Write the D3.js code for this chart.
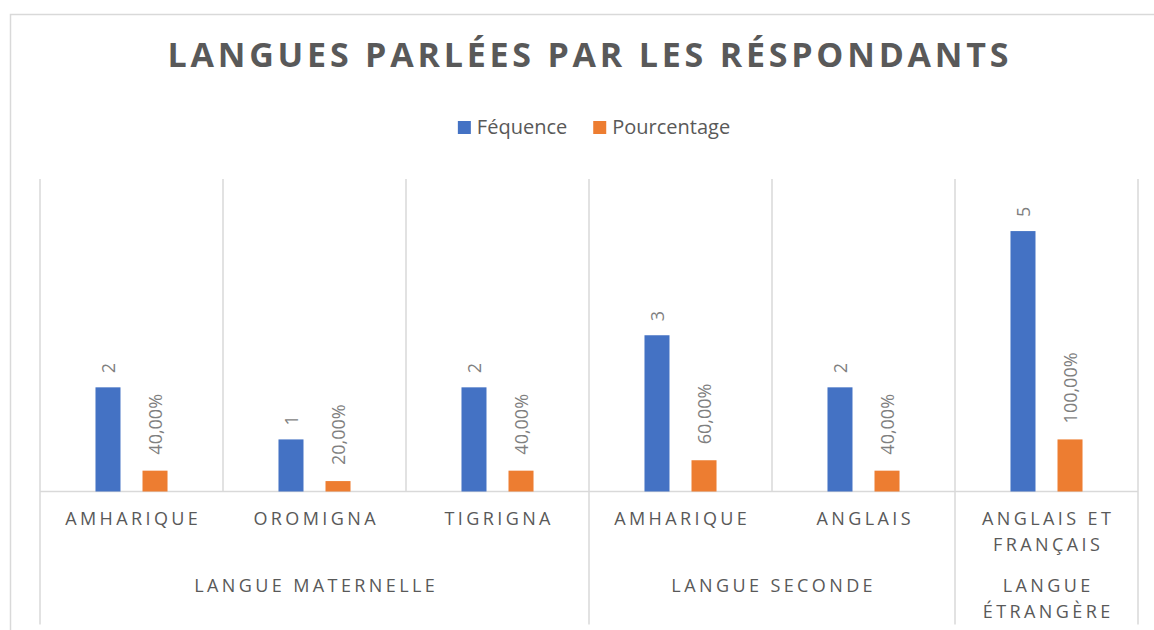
<!DOCTYPE html>
<html>
<head>
<meta charset="utf-8">
<script src="https://cdn.jsdelivr.net/npm/d3@7"></script>
<style>
  body { margin: 0; background: #fff; }
  svg { display: block; font-family: "Open Sans", "Noto Sans", sans-serif; }
</style>
</head>
<body>
<div id="chart"></div>
<script>
// data
const categories = ["AMHARIQUE", "OROMIGNA", "TIGRIGNA", "AMHARIQUE", "ANGLAIS", "ANGLAIS ET FRANÇAIS"];
const groups = ["LANGUE MATERNELLE", "LANGUE MATERNELLE", "LANGUE MATERNELLE", "LANGUE SECONDE", "LANGUE SECONDE", "LANGUE ÉTRANGÈRE"];
const frequence = [2, 1, 2, 3, 2, 5];
const pourcentage = [0.4, 0.2, 0.4, 0.6, 0.4, 1.0];
const seriesNames = ["Féquence", "Pourcentage"];
const yMax = 6;

const width = 1154, height = 630;
const margin = {top: 179, right: 16, bottom: 138.5, left: 40};
const innerW = width - margin.left - margin.right,
      innerH = height - margin.top - margin.bottom;

const colors = ["#4472C4", "#ED7D31"];
const GRID = "#d9d9d9", TEXT = "#595959", LABEL = "#7f7f7f";

const fr = d3.formatLocale({decimal: ",", thousands: " ", grouping: [3], currency: ["", " €"]});
const fmtPct = fr.format(".2%");

const svg = d3.select("#chart").append("svg")
    .attr("width", width)
    .attr("height", height);

// chart frame (runs off the right and bottom like the screenshot)
svg.append("rect")
    .attr("x", 10.5).attr("y", 14.5)
    .attr("width", 1300).attr("height", 800)
    .attr("fill", "none")
    .attr("stroke", GRID)
    .attr("stroke-width", 1.5);

// spread letters so that a text spans a given visible width
function spreadTo(sel, target) {
    const node = sel.node();
    const n = node.textContent.length;
    const natural = node.getComputedTextLength();
    const ls = (target - natural) / (n - 1);
    sel.style("letter-spacing", ls + "px").attr("dx", ls / 2);
}

// title
const title = svg.append("text")
    .attr("x", 588)
    .attr("y", 67)
    .attr("text-anchor", "middle")
    .attr("font-size", 34)
    .attr("font-weight", 700)
    .attr("fill", TEXT)
    .text("LANGUES PARLÉES PAR LES RÉSPONDANTS");
spreadTo(title, 841);

// legend
const legend = svg.append("g").attr("class", "legend");
let lx = 0;
seriesNames.forEach((name, i) => {
    const item = legend.append("g").attr("transform", `translate(${lx},0)`);
    item.append("rect")
        .attr("x", 0).attr("y", -13)
        .attr("width", 13).attr("height", 13)
        .attr("fill", colors[i]);
    const t = item.append("text")
        .attr("x", 19).attr("y", 0)
        .attr("font-size", 20)
        .attr("fill", TEXT)
        .text(name);
    lx += 19 + t.node().getComputedTextLength() + 26;
});
const legendW = lx - 26;
legend.attr("transform", `translate(${594 - legendW / 2},134)`);

const g = svg.append("g")
    .attr("transform", `translate(${margin.left},${margin.top})`);

/** scales */
const x = d3.scaleBand()
    .domain(d3.range(categories.length))
    .range([0, innerW])
    .padding(0);

const xs = d3.scaleBand()
    .domain(seriesNames)
    .range([0, x.bandwidth()])
    .paddingInner(0.468)
    .paddingOuter(1.18);

const y = d3.scaleLinear()
    .domain([0, yMax])
    .range([innerH, 0]);

// group boundaries
const groupSpans = [];
groups.forEach((grp, i) => {
    const last = groupSpans[groupSpans.length - 1];
    if (last && last.name === grp) last.end = i + 1;
    else groupSpans.push({name: grp, start: i, end: i + 1});
});
const groupEdges = new Set(groupSpans.map(d => d.start).concat([categories.length]));

// vertical gridlines / category separators
const edgeX = i => i < categories.length ? x(i) : x(categories.length - 1) + x.bandwidth();
g.append("g").attr("class", "grid")
    .selectAll("line")
    .data(d3.range(categories.length + 1))
    .join("line")
    .attr("x1", i => edgeX(i))
    .attr("x2", i => edgeX(i))
    .attr("y1", 0)
    .attr("y2", i => groupEdges.has(i) ? innerH + 133 : innerH)
    .attr("stroke", GRID)
    .attr("stroke-width", 1.5);

// category axis line
g.append("line")
    .attr("x1", 0).attr("x2", innerW)
    .attr("y1", y(0)).attr("y2", y(0))
    .attr("stroke", GRID)
    .attr("stroke-width", 1.5);

// bars
const rows = categories.map((c, i) => ({i, values: [frequence[i], pourcentage[i]]}));
const cat = g.append("g").attr("class", "bars")
    .selectAll("g")
    .data(rows)
    .join("g")
    .attr("transform", d => `translate(${x(d.i)},0)`);

cat.selectAll("rect")
    .data(d => d.values.map((v, k) => ({k, v})))
    .join("rect")
    .attr("x", d => xs(seriesNames[d.k]))
    .attr("y", d => y(d.v))
    .attr("width", xs.bandwidth())
    .attr("height", d => y(0) - y(d.v))
    .attr("fill", d => colors[d.k]);

// rotated data labels
cat.selectAll("text")
    .data(d => d.values.map((v, k) => ({k, v})))
    .join("text")
    .attr("transform", d => `translate(${xs(seriesNames[d.k]) + xs.bandwidth() / 2},${y(d.v) - (d.k === 0 ? 14 : 16)}) rotate(-90)`)
    .attr("text-anchor", "start")
    .attr("dominant-baseline", "central")
    .attr("font-size", 18)
    .attr("fill", LABEL)
    .text(d => d.k === 0 ? d.v : fmtPct(d.v));

// wrapped, letter-spaced axis labels
const LS = 3.4;
function wrapLines(text, maxW) {
    const probe = svg.append("text").attr("font-size", 18).style("letter-spacing", LS + "px");
    const words = text.split(" ");
    const lines = [];
    let line = "";
    words.forEach(w => {
        const test = line ? line + " " + w : w;
        probe.text(test);
        if (probe.node().getComputedTextLength() > maxW && line) {
            lines.push(line);
            line = w;
        } else line = test;
    });
    lines.push(line);
    probe.remove();
    return lines;
}

function axisLabel(parent, text, cx, baseY, maxW) {
    const lines = wrapLines(text, maxW);
    const t = parent.append("text")
        .attr("text-anchor", "middle")
        .attr("font-size", 18)
        .attr("fill", TEXT)
        .style("letter-spacing", LS + "px");
    lines.forEach((ln, k) => {
        t.append("tspan")
            .attr("x", cx + LS / 2)
            .attr("y", baseY + k * 26)
            .text(ln);
    });
}

const axisG = g.append("g").attr("class", "axis_x");
categories.forEach((c, i) => {
    axisLabel(axisG, c, x(i) + x.bandwidth() / 2, innerH + 33.5, x.bandwidth() - 16);
});
groupSpans.forEach(s => {
    const x0 = x(s.start), x1 = edgeX(s.end);
    axisLabel(axisG, s.name, (x0 + x1) / 2, innerH + 100.5, x1 - x0 - 16);
});
</script>
</body>
</html>
